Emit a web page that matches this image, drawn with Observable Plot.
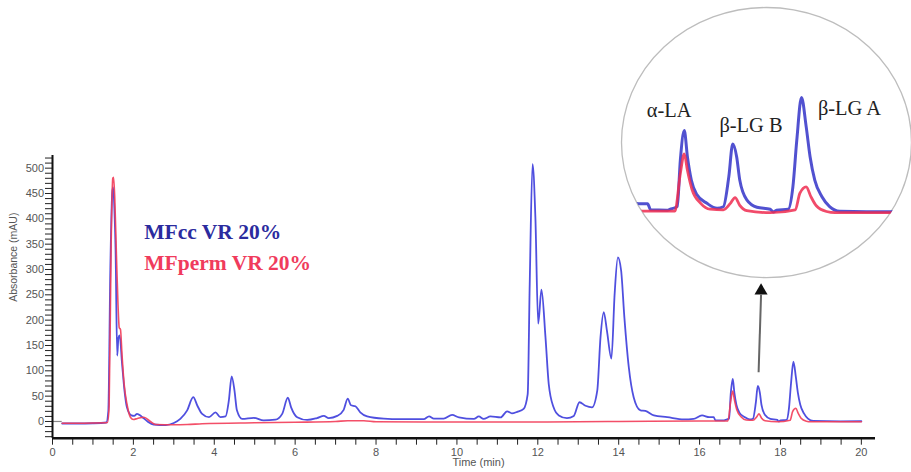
<!DOCTYPE html>
<html><head><meta charset="utf-8">
<script src="https://cdn.jsdelivr.net/npm/d3@7"></script>
<script src="https://cdn.jsdelivr.net/npm/@observablehq/plot@0.6"></script>
<style>
html,body{margin:0;padding:0;background:#fff;}
#wrap{position:relative;width:911px;height:472px;overflow:hidden;}
#inset{position:absolute;left:620px;top:7px;}
svg{display:block;}
</style></head><body><div id="wrap"><div id="main"></div><div id="inset"></div></div>
<script>
// ---- data (time in min, absorbance in mAU) ----
const blueTime = [0.24,0.6,1.0,1.33,1.38,1.43,1.48,1.50,1.53,1.56,1.60,1.63,1.66,1.72,1.78,1.84,1.95,2.02,2.09,2.20,2.35,2.50,2.80,3.00,3.16,3.33,3.48,3.58,3.70,3.87,4.03,4.15,4.28,4.36,4.43,4.50,4.56,4.69,4.98,5.22,5.51,5.68,5.82,5.90,6.05,6.30,6.54,6.71,6.83,7.04,7.20,7.30,7.38,7.49,7.61,7.78,8.19,8.60,9.18,9.31,9.43,9.67,9.88,10.05,10.42,10.54,10.66,10.83,11.08,11.24,11.36,11.49,11.65,11.75,11.80,11.87,11.94,12.01,12.09,12.19,12.27,12.39,12.52,12.72,12.89,13.03,13.18,13.34,13.47,13.55,13.63,13.71,13.82,13.90,13.98,14.06,14.14,14.25,14.37,14.54,14.66,14.87,15.20,15.61,15.85,16.06,16.24,16.35,16.39,16.60,16.64,16.73,16.77,16.82,16.86,16.91,16.98,17.11,17.24,17.32,17.39,17.44,17.49,17.53,17.62,17.75,17.92,17.96,18.00,18.15,18.21,18.26,18.32,18.38,18.43,18.49,18.58,18.68,18.81,19.49,20.0];
const blueValue = [-4,-4,-3.5,-2,20,300,455,462,420,337,130,165,170,114,61,28,12,11,15,10,0,-6,-7,-3,5,22,48,31.6,15,8.5,18,8.5,10,41,89,61,22,5,7,2,3.5,15,47,28,8.5,3,6.7,11,6.7,11,23,45,32,30,18,10,5.5,4.5,4.5,10,5.5,5.5,13,8,5,10,5,10,8,20,16,19,25,54,271,508,403,193,260,166,74,28,12,6.6,11,38,31,28,61,166,216,179,124,252,324,298,206,107,48,22,21,12,8.5,4,5,12,8.5,8.5,2.4,2,3,6,54,84,57,33,18,9,4,5.5,36.5,70,57,33,12.6,5,3,0,2,3,26,74,118,88,57,33,16,5.7,1,0.3,0.5];
const redTime = [0.24,0.6,1.0,1.36,1.40,1.45,1.49,1.51,1.54,1.58,1.62,1.65,1.68,1.72,1.77,1.84,1.93,2.00,2.10,2.26,2.42,2.55,3.00,3.33,3.70,5.00,6.00,7.00,7.30,7.70,8.00,10.0,12.0,14.0,16.0,16.26,16.70,16.77,16.82,16.86,16.92,17.03,17.15,17.32,17.41,17.47,17.53,17.62,17.92,18.24,18.30,18.38,18.44,18.51,18.64,18.75,20.0];
const redValue = [-3.5,-3.5,-3,-2,30,350,480,482,440,330,230,185,182,130,75,35,8,4,6,8.5,0,-6,-6.5,-6,-4.6,-2.6,-1.5,0,1.5,1.5,-0.5,-1,-1,0,1,1,1,40,60,43,23,9,3,2.4,9,15,7,1.6,-0.6,2.4,19.5,26,16,6.5,0.6,-0.6,-0.5];

const seriesNames = ["MFcc VR 20%", "MFperm VR 20%"];
const seriesColors = ["#2b2b9e", "#f03b5c"];
const lineColors = ["#3c3cdc", "#f23c58"];
const legendTime = [2.27, 2.27];
const legendValue = [360, 299];

const peakNames = ["α-LA", "β-LG B", "β-LG A"];
const peakLabelTime = [16.34, 17.27, 18.53];
const peakLabelValue = [105, 89, 107];

const arrowFrom = {t: 17.46, v: 97};
const arrowTo = {t: 17.52, v: 250};
const arrowTip = {t: 17.52, v: 258};

const xTicks = d3.range(0, 20.001, 0.5);
const xLabels = d3.range(0, 21, 2);
const yTicks = d3.range(-30, 521, 10);
const yLabels = d3.range(0, 501, 50);

const blue = blueTime.map((t, i) => ({t, v: blueValue[i]}));
const red = redTime.map((t, i) => ({t, v: redValue[i]}));
const legend = seriesNames.map((s, i) => ({s, t: legendTime[i], v: legendValue[i], c: seriesColors[i]}));
const peaks = peakNames.map((s, i) => ({s, t: peakLabelTime[i], v: peakLabelValue[i]}));

const serif = "'Liberation Serif','Times New Roman',serif";

const main = Plot.plot({
  width: 911, height: 472,
  marginLeft: 52, marginRight: 36, marginTop: 155, marginBottom: 34.3,
  x: {domain: [0, 20.35], label: null},
  y: {domain: [-33, 525], label: null},
  style: {fontFamily: "'Liberation Sans',Arial,sans-serif", background: "white"},
  marks: [
    Plot.axisY(yTicks, {tickSize: 7, tickFormat: () => "", label: null, stroke: "#222"}),
    Plot.axisY(yLabels, {tickSize: 0, tickPadding: 8.5, fontSize: 11, fill: "#555", label: null}),
    Plot.axisX(xTicks, {tickSize: 7, tickFormat: () => "", label: null, stroke: "#222"}),
    Plot.axisX(xLabels, {tickSize: 0, tickPadding: 9.5, fontSize: 11, fill: "#555", label: null}),
    Plot.ruleY([0], {x1: 0, x2: 0.24, stroke: "#888", strokeWidth: 1.2}),
    Plot.ruleX([0], {y1: -33, y2: 525, stroke: "#111", strokeWidth: 2}),
    Plot.ruleY([-33], {x1: 0, x2: 20.35, stroke: "#111", strokeWidth: 2.5}),
    Plot.text(["Time (min)"], {x: 10, frameAnchor: "bottom", textAnchor: "start", dx: -4.5, dy: 27.5, fontSize: 11, fill: "#555"}),
    Plot.text(["Absorbance (mAU)"], {frameAnchor: "left", rotate: -90, dx: -39, dy: 5, fontSize: 10.5, fill: "#555"}),
    Plot.line(blue, {x: "t", y: "v", curve: "monotone-x", stroke: lineColors[0], strokeWidth: 1.8, strokeOpacity: 0.9}),
    Plot.line(red, {x: "t", y: "v", curve: "monotone-x", stroke: lineColors[1], strokeWidth: 1.6, strokeOpacity: 0.9}),
    Plot.link([arrowFrom], {x1: d => arrowFrom.t, y1: d => arrowFrom.v, x2: d => arrowTo.t, y2: d => arrowTo.v, stroke: "#666", strokeWidth: 2}),
    Plot.dot([arrowTip], {x: "t", y: "v", symbol: "triangle", r: 4.85, fill: "#111", stroke: "none"}),
    Plot.text(legend, {x: "t", y: "v", text: "s", fill: "c", textAnchor: "start", lineAnchor: "bottom", fontSize: 21.5, fontWeight: "bold", fontFamily: serif})
  ]
});
document.getElementById("main").appendChild(main);

// ---- inset: magnified view of the whey protein peaks ----
const insetW = 292, insetH = 272;
const blueIn = blue.filter(d => d.t >= 15.8 && d.t <= 20);
const redIn = red.filter(d => d.t >= 15.8 && d.t <= 20);
const inset = Plot.plot({
  width: insetW, height: insetH, margin: 0,
  x: {domain: [16.0037, 19.728], axis: null},
  y: {domain: [-68.4, 210.6], axis: null},
  style: {background: "transparent", overflow: "visible"},
  marks: [
    Plot.line(blueIn, {x: "t", y: "v", curve: "monotone-x", stroke: "#3232c8", strokeWidth: 3, strokeOpacity: 0.85}),
    Plot.line(redIn, {x: "t", y: "v", curve: "monotone-x", stroke: "#ee2c50", strokeWidth: 2.8, strokeOpacity: 0.85}),
    Plot.text(peaks, {x: "t", y: "v", text: "s", textAnchor: "start", fontSize: 20.5, fill: "#222", fontFamily: serif})
  ]
});
document.getElementById("inset").appendChild(inset);
const isv = d3.select(inset);
isv.insert("defs", ":first-child").append("clipPath").attr("id", "insetClip")
  .append("ellipse").attr("cx", 147).attr("cy", 136).attr("rx", 145.5).attr("ry", 135.5);
isv.insert("ellipse", "defs + *").attr("cx", 147).attr("cy", 136).attr("rx", 145.5).attr("ry", 135.5)
  .attr("fill", "white").attr("stroke", "#bdbdbd").attr("stroke-width", 1.3);
isv.selectAll('g[aria-label="line"]').attr("clip-path", "url(#insetClip)");
</script></body></html>
